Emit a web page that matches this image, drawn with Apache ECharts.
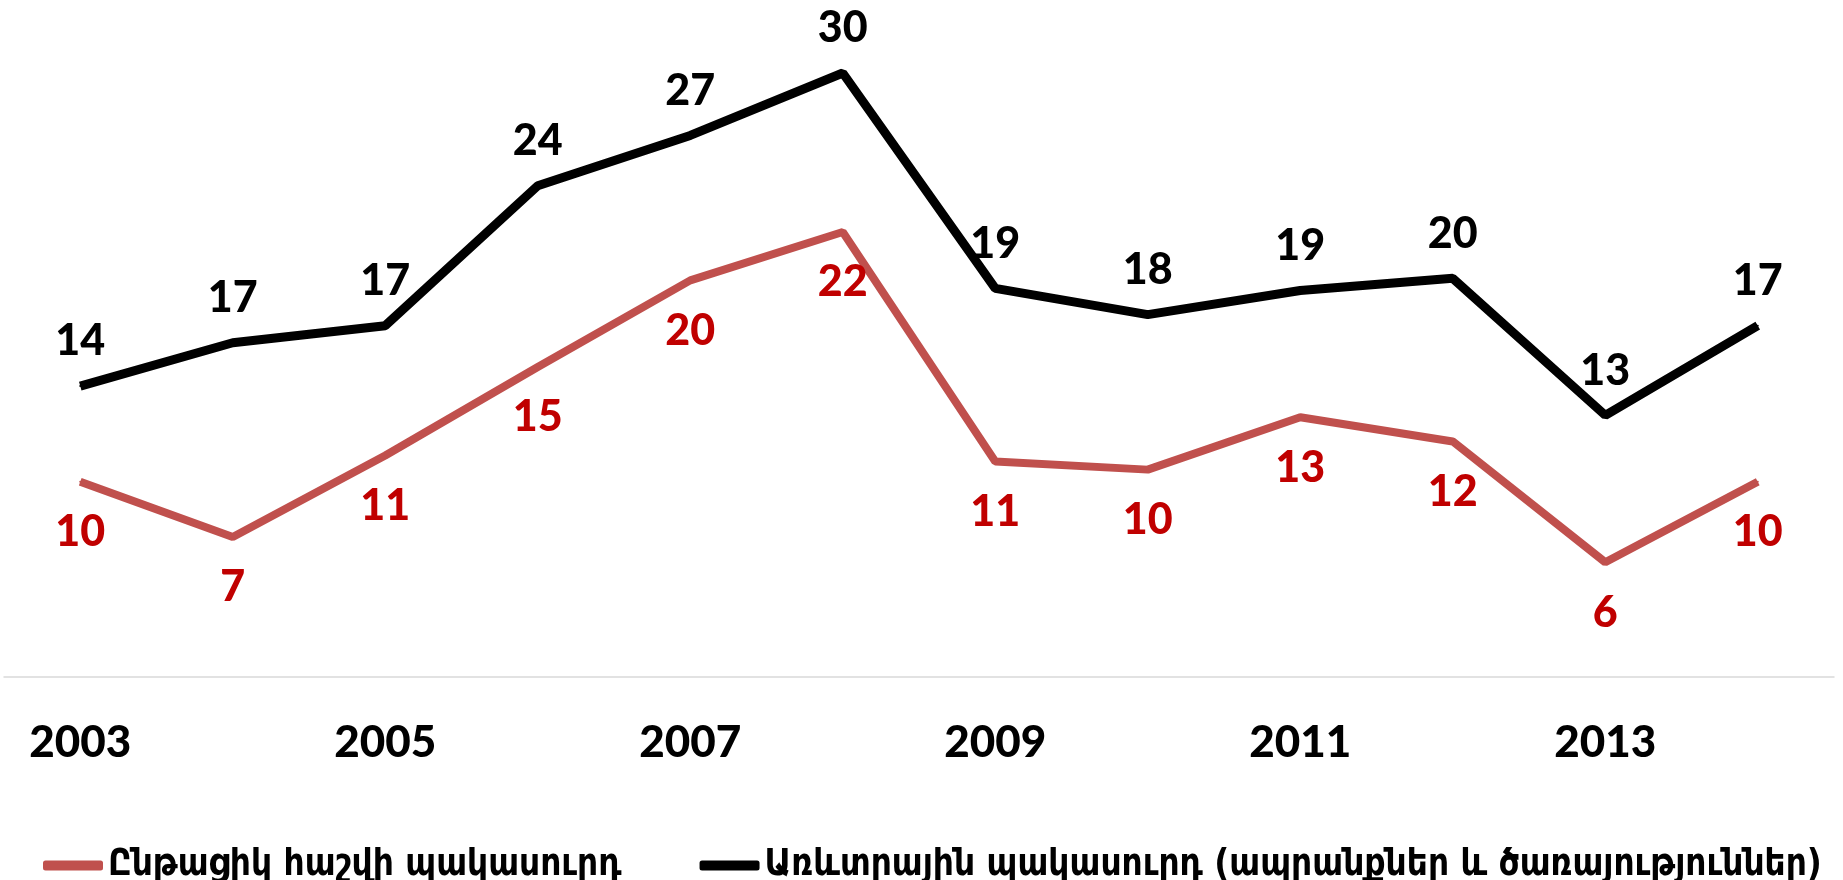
<!DOCTYPE html>
<html>
<head>
<meta charset="utf-8">
<script src="https://cdn.jsdelivr.net/npm/echarts@6/dist/echarts.min.js"></script>
<style>
html,body{margin:0;padding:0;background:#fff;}
#chart{width:1843px;height:880px;}
</style>
</head>
<body>
<div id="chart"></div>
<script>
var years = ['2003','2004','2005','2006','2007','2008','2009','2010','2011','2012','2013','2014'];
// Ընթացիկ հաշվի պակասուրդ
var currentDeficit = [9.7, 6.95, 11.0, 15.4, 19.7, 22.1, 10.7, 10.3, 12.9, 11.7, 5.7, 9.7];
// Առևտրային պակասուրդ
var tradeDeficit = [14.45, 16.6, 17.45, 24.4, 26.9, 30.0, 19.3, 18.0, 19.2, 19.8, 13.0, 17.45];
var seriesNames = ['Ընթացիկ հաշվի պակասուրդ', 'Առևտրային պակասուրդ (ապրանքներ և ծառայություններ)'];

var chart = echarts.init(document.getElementById('chart'));
var numFont = 'Lato';
function roundLabel(p){ return Math.round(p.value); }

var option = {
	animation: false,
	backgroundColor: '#fff',
	grid: {
		left: 4,
		right: 9,
		top: 73,
		bottom: 203,
		containLabel: false
	},
	legend: {
		left: 43,
		top: 847,
		width: 1800,
		padding: 0,
		itemGap: 78,
		itemWidth: 60,
		itemHeight: 10,
		icon: 'roundRect',
		textStyle: {
			fontFamily: 'DejaVu Sans Condensed',
			fontWeight: 'bold',
			fontSize: 36.6,
			color: '#000'
		},
		data: seriesNames
	},
	xAxis: {
		type: 'category',
		data: years,
		boundaryGap: true,
		axisLine: {lineStyle: {color: '#d9d9d9', width: 1.5}},
		axisTick: {show: false},
		axisLabel: {
			interval: 1,
			margin: 44,
			fontFamily: numFont,
			fontWeight: 900,
			fontSize: 44,
			color: '#000'
		}
	},
	yAxis: {
		type: 'value',
		min: 0,
		max: 30,
		show: false,
		splitLine: {show: false}
	},
	series: [
		{
			name: seriesNames[0],
			type: 'line',
			data: currentDeficit,
			symbol: 'circle',
			symbolSize: 2,
			color: '#C0504D',
			itemStyle: {color: '#C0504D'},
			lineStyle: {color: '#C0504D', width: 8},
			label: {
				show: true,
				position: 'bottom',
				distance: 28,
				fontFamily: numFont,
				fontWeight: 900,
				fontSize: 43,
				color: '#C00000',
				formatter: roundLabel
			}
		},
		{
			name: seriesNames[1],
			type: 'line',
			data: tradeDeficit,
			symbol: 'circle',
			symbolSize: 2,
			color: '#000',
			itemStyle: {color: '#000'},
			lineStyle: {color: '#000', width: 9},
			label: {
				show: true,
				position: 'top',
				distance: 22,
				fontFamily: numFont,
				fontWeight: 900,
				fontSize: 43,
				color: '#000',
				formatter: roundLabel
			}
		}
	]
};
chart.setOption(option);
</script>
</body>
</html>
